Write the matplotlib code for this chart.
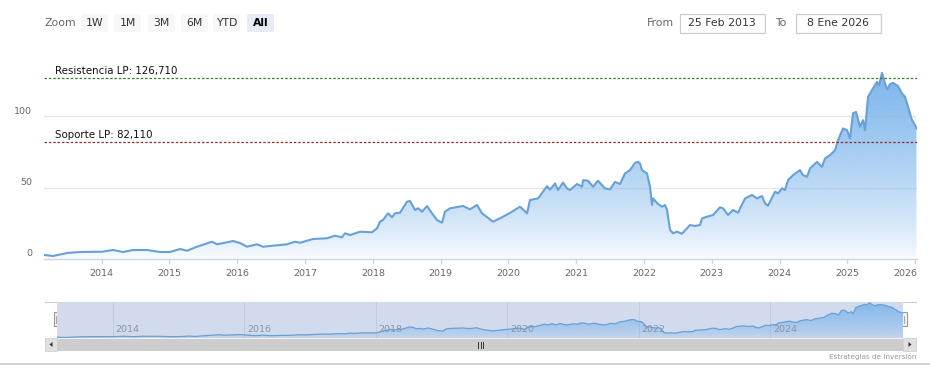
import matplotlib
matplotlib.use("Agg")
import matplotlib.pyplot as plt
import numpy as np
from matplotlib.colors import to_rgb
from matplotlib.patches import Rectangle, FancyBboxPatch, Polygon

# ---------------- data (decimal years, price) ----------------
dates = [2013.153, 2013.282, 2013.488, 2013.680, 2014.004, 2014.167, 2014.314, 2014.462,
         2014.668, 2014.860, 2015.008, 2015.155, 2015.258, 2015.406, 2015.627, 2015.701,
         2015.819, 2015.937, 2016.040, 2016.144, 2016.291, 2016.380, 2016.527, 2016.734,
         2016.852, 2016.926, 2017.117, 2017.324, 2017.442, 2017.545, 2017.590, 2017.663,
         2017.811, 2017.988, 2018.062, 2018.106, 2018.150, 2018.224, 2018.283, 2018.327,
         2018.401, 2018.504, 2018.549, 2018.622, 2018.667, 2018.726, 2018.799, 2018.873,
         2018.947, 2019.021, 2019.065, 2019.139, 2019.330, 2019.434, 2019.537, 2019.611,
         2019.773, 2019.921, 2020.053, 2020.172, 2020.275, 2020.319, 2020.437, 2020.570,
         2020.614, 2020.688, 2020.732, 2020.806, 2020.865, 2020.909, 2021.012, 2021.086,
         2021.101, 2021.175, 2021.249, 2021.322, 2021.425, 2021.499, 2021.573, 2021.647,
         2021.720, 2021.794, 2021.868, 2021.912, 2021.942, 2021.971, 2022.045, 2022.089,
         2022.119, 2022.134, 2022.207, 2022.266, 2022.311, 2022.340, 2022.385, 2022.429,
         2022.488, 2022.561, 2022.635, 2022.680, 2022.753, 2022.827, 2022.857, 2022.930,
         2023.019, 2023.122, 2023.166, 2023.240, 2023.314, 2023.388, 2023.491, 2023.594,
         2023.668, 2023.742, 2023.786, 2023.830, 2023.934, 2023.978, 2024.037, 2024.081,
         2024.126, 2024.199, 2024.302, 2024.346, 2024.406, 2024.450, 2024.553, 2024.627,
         2024.671, 2024.745, 2024.819, 2024.863, 2024.937, 2024.996, 2025.040, 2025.084,
         2025.129, 2025.188, 2025.232, 2025.261, 2025.306, 2025.379, 2025.438, 2025.468,
         2025.512, 2025.557, 2025.586, 2025.630, 2025.675, 2025.748, 2025.807, 2025.852,
         2025.896, 2025.955, 2025.999, 2026.021]
prices = [2.8, 2.1, 4.2, 4.9, 5.1, 6.3, 4.9, 6.3,
          6.3, 4.9, 4.9, 7.0, 5.8, 8.6, 12.1, 10.3,
          11.4, 12.6, 11.2, 8.6, 10.3, 8.6, 9.3, 10.3,
          12.1, 11.4, 14.0, 14.5, 16.3, 15.2, 18.0, 16.8,
          19.1, 18.7, 21.5, 26.1, 27.3, 32.0, 29.2, 32.0,
          32.4, 40.1, 40.6, 34.3, 35.5, 33.1, 37.1, 32.0,
          27.3, 25.4, 33.1, 35.5, 37.1, 34.8, 37.8, 32.0,
          26.1, 29.6, 33.1, 36.6, 32.0, 41.3, 42.4, 51.0,
          48.5, 52.9, 48.3, 53.5, 49.4, 48.3, 52.5, 50.6,
          55.2, 54.8, 50.6, 54.8, 49.4, 48.7, 54.0, 52.5,
          59.9, 62.2, 67.3, 68.0, 66.9, 62.2, 59.9, 50.6,
          37.8, 42.4, 38.5, 36.6, 37.8, 34.3, 20.3, 18.0,
          19.1, 17.7, 21.5, 23.8, 23.1, 23.8, 28.4, 29.6,
          30.8, 36.2, 35.5, 30.8, 34.3, 32.4, 42.4, 44.8,
          42.4, 44.1, 39.0, 37.3, 47.1, 46.0, 49.4, 48.3,
          55.2, 58.7, 62.2, 58.7, 57.6, 63.4, 68.0, 64.5,
          70.4, 72.7, 76.2, 83.2, 91.4, 90.2, 84.4, 101.9,
          103.0, 92.5, 97.2, 90.2, 113.5, 119.4, 124.0, 121.7,
          130.3, 122.9, 118.7, 122.4, 123.3, 121.0, 115.9, 113.5,
          106.5, 97.2, 93.7, 91.4]

resistance = 126.71
support = 82.11
resistance_label = "Resistencia LP: 126,710"
support_label = "Soporte LP: 82,110"
y_ticks = [0, 50, 100]
x_years = list(range(2014, 2027))
nav_years = [2014, 2016, 2018, 2020, 2022, 2024]
zoom_buttons = ["1W", "1M", "3M", "6M", "YTD", "All"]
from_date = "25 Feb 2013"
to_date = "8 Ene 2026"
credits_text = "Estrategias de Inversión"

# ---------------- figure ----------------
W, H = 930, 385
fig = plt.figure(figsize=(W / 100, H / 100), dpi=100)
fig.patch.set_facecolor("white")
FONT = "DejaVu Sans"
PT = 0.72  # points per pixel at 100 dpi

def axes_px(x0, y0, x1, y1, **kw):
    return fig.add_axes([x0 / W, 1 - y1 / H, (x1 - x0) / W, (y1 - y0) / H], **kw)

# background overlay for UI elements (pixel coordinates)
bg = axes_px(0, 0, W, H)
bg.set_xlim(0, W)
bg.set_ylim(H, 0)
bg.axis("off")
bg.set_zorder(0)

X0, X1 = min(dates), max(dates)
series_col = "#7cb5ec"
line_col = "#68a0d8"

def gradient_area(ax, xs, ys, top, a_top, a_bot, z, power=0.75):
    verts = [(xs[0], 0)] + list(zip(xs, ys)) + [(xs[-1], 0)]
    patch = Polygon(verts, closed=True, facecolor="none", edgecolor="none",
                    transform=ax.transData)
    ax.add_patch(patch)
    n = 256
    t = np.linspace(0, 1, n)
    rgba = np.zeros((n, 1, 4))
    rgba[..., :3] = to_rgb(series_col)
    rgba[:, 0, 3] = a_bot + (a_top - a_bot) * t ** power
    im = ax.imshow(rgba, extent=[xs[0], xs[-1], 0, top], origin="lower",
                   aspect="auto", zorder=z, interpolation="bilinear")
    im.set_clip_path(patch)

# ---------------- main chart ----------------
ax = axes_px(44.3, 59, 916.5, 259)
ax.set_zorder(2)
ax.patch.set_alpha(0)
gradient_area(ax, dates, prices, max(prices), 1.0, 0.03, 1)
ax.plot(dates, prices, color=line_col, lw=1.5, zorder=3, solid_joinstyle="round")
ax.set_xlim(X0, X1)
ax.set_ylim(0, 140)
for s in ax.spines.values():
    s.set_visible(False)
ax.set_xticks([])
ax.set_yticks([])
for v in y_ticks[1:]:
    ax.axhline(v, color="#e6e6e6", lw=1, zorder=0.5)
ax.axhline(0, color="#ccd6eb", lw=1, zorder=4, clip_on=False)

for v in y_ticks:
    ax.annotate(str(v), xy=(0, v), xycoords=("axes fraction", "data"),
                xytext=(-12 * PT, 5 * PT), textcoords="offset points",
                ha="right", va="center", fontsize=6.8, color="#666666", family=FONT)

for yr in x_years:
    ax.plot([yr, yr], [0, -2.8], color="#ccd6eb", lw=1, clip_on=False, zorder=4)
    ha = "center"
    dx = 0
    if yr == x_years[-1]:
        ha, dx = "right", 2
    ax.annotate(str(yr), xy=(yr, 0), xycoords=("data", "axes fraction"),
                xytext=(dx * PT, -14 * PT), textcoords="offset points",
                ha=ha, va="center", fontsize=6.8, color="#666666", family=FONT)

# support / resistance
ax.axhline(resistance, color="#3b7a3b", lw=0.9, ls=(0, (2, 1.5)), zorder=5)
ax.axhline(support, color="#8b3030", lw=0.9, ls=(0, (2, 1.5)), zorder=5)
ax.annotate(resistance_label, xy=(0, resistance), xycoords=("axes fraction", "data"),
            xytext=(10.5 * PT, 7 * PT), textcoords="offset points",
            ha="left", va="center", fontsize=7.4, color="#111111", family=FONT)
ax.annotate(support_label, xy=(0, support), xycoords=("axes fraction", "data"),
            xytext=(10.5 * PT, 7 * PT), textcoords="offset points",
            ha="left", va="center", fontsize=7.4, color="#111111", family=FONT)

# ---------------- navigator ----------------
nav = axes_px(57, 302, 903, 338)
nav.set_zorder(2)
nav.set_facecolor("#d1dbed")
gradient_area(nav, dates, prices, max(prices), 0.9, 0.15, 1)
nav.plot(dates, prices, color=line_col, lw=0.9, zorder=3)
nav.set_xlim(X0, X1)
nav.set_ylim(0, 133)
nav.set_xticks([])
nav.set_yticks([])
for s in nav.spines.values():
    s.set_visible(False)
for yr in nav_years:
    nav.axvline(yr, color="#c3cbdc", lw=0.8, zorder=0.8)
    nav.annotate(str(yr), xy=(yr, 0), xycoords=("data", "axes fraction"),
                 xytext=(3 * PT, 8 * PT), textcoords="offset points",
                 ha="left", va="center", fontsize=6.8, color="#8c93a3", family=FONT,
                 zorder=5)

# navigator outline
bg.plot([45, 916], [302, 302], color="#cccccc", lw=0.8)

# scrollbar
bg.add_patch(Rectangle((45, 338), 871, 13, facecolor="#f2f2f2", edgecolor="none"))
bg.add_patch(Rectangle((57, 338.5), 846, 12, facecolor="#cdcdcd", edgecolor="none"))
bg.add_patch(Rectangle((45, 338), 12, 13, facecolor="#e0e0e0", edgecolor="#cccccc", lw=0.5))
bg.add_patch(Rectangle((903, 338), 13, 13, facecolor="#e0e0e0", edgecolor="#cccccc", lw=0.5))
bg.add_patch(Polygon([(52.5, 342), (52.5, 347), (49.5, 344.5)], closed=True,
                     facecolor="#333333", edgecolor="none"))
bg.add_patch(Polygon([(908.5, 342), (908.5, 347), (911.5, 344.5)], closed=True,
                     facecolor="#333333", edgecolor="none"))
for gx in (478, 480.5, 483):
    bg.plot([gx, gx], [341.5, 347.5], color="#333333", lw=0.7)

# handles
for hx in (57, 903):
    bg.add_patch(Rectangle((hx - 3.5, 312), 7, 14, facecolor="#f2f2f2",
                           edgecolor="#999999", lw=0.8, zorder=6))
    for lx in (hx - 1, hx + 1):
        bg.plot([lx, lx], [315.5, 322.5], color="#999999", lw=0.6, zorder=7)

# bottom separator and credits
bg.plot([0, W], [364, 364], color="#cccccc", lw=1.2)
bg.text(916, 356.5, credits_text, ha="right", va="center", fontsize=5.2,
        color="#999999", family=FONT)

# ---------------- range selector ----------------
bg.text(60, 22.5, "Zoom", ha="center", va="center", fontsize=7.8,
        color="#666666", family=FONT)
btn_x = [80, 113, 147, 180, 212, 246]
for lab, bx in zip(zoom_buttons, btn_x):
    sel = lab == "All"
    bg.add_patch(FancyBboxPatch((bx + 1, 14), 27, 18,
                                boxstyle="round,pad=0,rounding_size=2",
                                facecolor="#e6ebf5" if sel else "#f7f7f7",
                                edgecolor="none"))
    bg.text(bx + 14.5, 23, lab, ha="center", va="center", fontsize=7.8,
            color="#000000" if sel else "#333333",
            fontweight="bold" if sel else "normal", family=FONT)

bg.text(660, 22.5, "From", ha="center", va="center", fontsize=7.8,
        color="#666666", family=FONT)
bg.add_patch(Rectangle((679.5, 13.5), 85, 19, facecolor="white",
                       edgecolor="#cccccc", lw=0.9))
bg.text(722, 23, from_date, ha="center", va="center", fontsize=7.8,
        color="#333333", family=FONT)
bg.text(781, 22.5, "To", ha="center", va="center", fontsize=7.8,
        color="#666666", family=FONT)
bg.add_patch(Rectangle((795.5, 13.5), 85, 19, facecolor="white",
                       edgecolor="#cccccc", lw=0.9))
bg.text(838, 23, to_date, ha="center", va="center", fontsize=7.8,
        color="#333333", family=FONT)

fig.savefig("out.png", dpi=100, facecolor="white")
